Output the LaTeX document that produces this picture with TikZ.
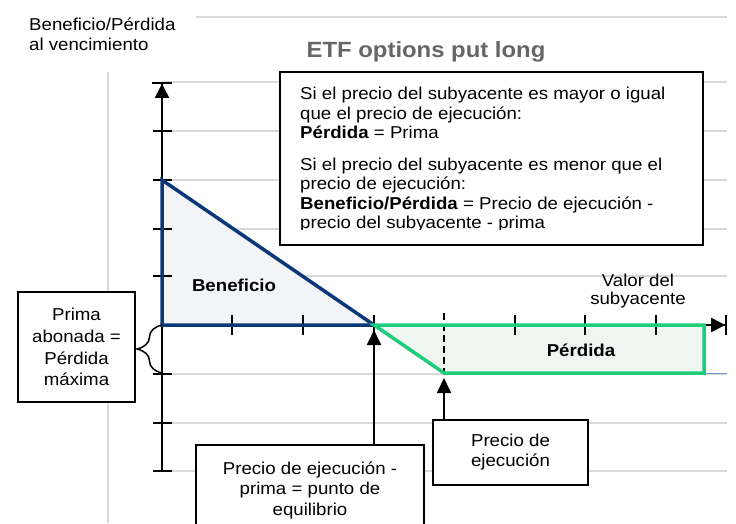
\documentclass[tikz,border=0pt]{standalone}
\usepackage{fontspec}
\setmainfont[FakeStretch=1.085]{Liberation Sans}
\usetikzlibrary{arrows.meta,decorations.pathreplacing}
\definecolor{gridgray}{RGB}{217,217,217}
\definecolor{titlegray}{RGB}{102,102,102}
\definecolor{beneblue}{RGB}{10,56,120}
\definecolor{benefill}{RGB}{242,244,248}
\definecolor{perdgreen}{RGB}{30,204,122}
\definecolor{perdfill}{RGB}{239,246,242}
\definecolor{thinblue}{RGB}{110,150,210}
\tikzset{
  gridln/.style={draw=gridgray, line width=1.5pt},
  axisln/.style={line width=1.8pt, -{Triangle[length=14pt,width=14pt]Bar[width=20pt]}},
  tickln/.style={line width=1.8pt},
  ptr/.style={line width=1.8pt, -{Triangle[length=15pt,width=14pt]}, shorten >=5pt},
  labelbox/.style={draw, fill=white, line width=1.5pt, align=center, inner sep=0pt},
  bodyfont/.style={font=\fontsize{17.2}{19.5}\selectfont},
  boldlab/.style={font=\fontsize{17.2}{19}\selectfont\bfseries},
}
\begin{document}
\begin{tikzpicture}[x=1pt, y=-1pt, bodyfont]
  \useasboundingbox (0,0) rectangle (736,523);
  \coordinate (O) at (162,325);
  \coordinate (ytop) at (162,82);
  \coordinate (ybot) at (162,471);
  \coordinate (xend) at (727,325);
  \coordinate (pmax) at (162,180);
  \coordinate (apex) at (374,325);
  \coordinate (kink) at (444,373);
  \coordinate (pmin) at (162,373);
  % grid
  \draw[gridln] (196,17) -- (727,17);
  \draw[gridln] (108,72) -- (108,523);
  \foreach \y in {82,131,180,229,276,374,423,471}
    \draw[gridln] (162,\y) -- (727,\y);
  % areas
  \fill[benefill] (pmax) -- (apex) -- (O) -- cycle;
  \fill[perdfill] (apex) -- (kink) -- (704,373) -- (704,325) -- cycle;
  \draw[thinblue, line width=1pt] (704,373) -- (727,373);
  % axes and ticks
  \draw[axisln] (ybot) -- (ytop);
  \draw[axisln] (O) -- (xend);
  \foreach \y in {131,180,229,276,374,423,471}
    \draw[tickln] (153,\y) -- (172,\y);
  \foreach \x in {232,303,374,515,585,656}
    \draw[tickln] (\x,315) -- (\x,335);
  \draw[tickln, dash pattern=on 7pt off 4pt] (444,313) -- (kink);
  % payoff
  \draw[beneblue, line width=3.5pt, line join=miter] (pmax) -- (apex) -- (O) -- cycle;
  \draw[perdgreen, line width=3.5pt] (apex) -- (kink) -- (704,373) -- (704,325) -- cycle;
  \node[boldlab] (bene) at (234,285) {Beneficio};
  \node[boldlab] (perd) at (581,350) {Pérdida};
  % texts
  \node[text=titlegray, font=\fontsize{22}{24}\selectfont\bfseries] (title) at (426,52) {ETF options put long};
  \node[anchor=north west, align=left, inner sep=0pt, font=\fontsize{17.2}{20}\selectfont] (ylab) at (29,18) {Beneficio/Pérdida\\al vencimiento};
  \node[align=center, font=\fontsize{17.2}{18}\selectfont] (xlab) at (638,291) {Valor del\\subyacente};
  \node[labelbox, minimum width=423pt, minimum height=173pt] (cond) at (491.5,158.5) {};
  \begin{scope}
    \clip (281,73) rectangle (702,229);
    \node[anchor=north west, align=left, inner sep=0pt] (condtxt) at (300,87)
      {Si el precio del subyacente es mayor o igual\\que el precio de ejecución:\\\textbf{Pérdida} = Prima\\[12pt]
       Si el precio del subyacente es menor que el\\precio de ejecución:\\\textbf{Beneficio/Pérdida} = Precio de ejecución -\\precio del subyacente - prima};
  \end{scope}
  \node[labelbox, minimum width=117pt, minimum height=110pt, font=\fontsize{17.2}{21.7}\selectfont] (prima) at (76.5,347) {Prima\\abonada =\\Pérdida\\máxima};
  \node[labelbox, minimum width=228pt, minimum height=90pt] (equil) at (310,490) {};
  \begin{scope}
    \clip (197,446) rectangle (423,518);
    \node[align=center, inner sep=0pt, font=\fontsize{17.2}{20.5}\selectfont] (equiltxt) at (equil) {Precio de ejecución -\\prima = punto de\\equilibrio};
  \end{scope}
  \node[labelbox, minimum width=155pt, minimum height=65pt, font=\fontsize{17.2}{20}\selectfont] (strike) at (510.5,452.5) {Precio de\\ejecución};
  % connectors
  \draw[ptr] (equil.north -| apex) -- (apex);
  \draw[ptr] (strike.north -| kink) -- (kink);
  \draw[line width=1.5pt, decorate, decoration={brace, amplitude=25pt}] (pmin) -- (O);
\end{tikzpicture}
\end{document}
